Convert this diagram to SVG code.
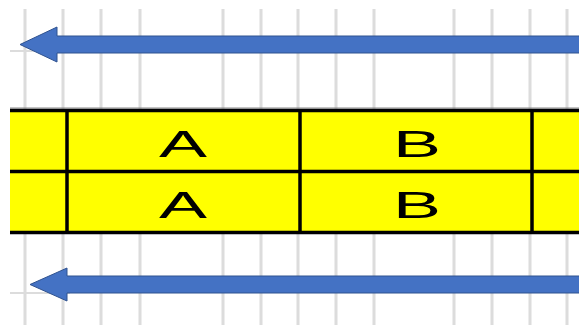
<svg xmlns="http://www.w3.org/2000/svg" width="579" height="325" viewBox="0 0 579 325">
<style>
.grid{stroke:#dcdcdc;stroke-width:3}
.hgrid{stroke:#dcdcdc;stroke-width:2}
.cell{stroke:#000;stroke-width:3.5}
.arrow{fill:#4472C4;stroke:#2F528F;stroke-width:1}
.lbl{font-family:"Liberation Sans",Arial,sans-serif;font-size:36px;fill:#000;text-anchor:middle}
</style>
<rect width="579" height="325" fill="#fff"/>
<g id="grid">
<line class="grid" x1="25" y1="9" x2="25" y2="325"/>
<line class="grid" x1="63" y1="9" x2="63" y2="325"/>
<line class="grid" x1="101" y1="9" x2="101" y2="325"/>
<line class="grid" x1="140" y1="9" x2="140" y2="325"/>
<line class="grid" x1="223" y1="9" x2="223" y2="325"/>
<line class="grid" x1="261" y1="9" x2="261" y2="325"/>
<line class="grid" x1="298" y1="9" x2="298" y2="325"/>
<line class="grid" x1="336" y1="9" x2="336" y2="325"/>
<line class="grid" x1="374" y1="9" x2="374" y2="325"/>
<line class="grid" x1="454" y1="9" x2="454" y2="325"/>
<line class="grid" x1="492" y1="9" x2="492" y2="325"/>
<line class="grid" x1="530" y1="9" x2="530" y2="325"/>
<line class="grid" x1="567" y1="9" x2="567" y2="325"/>
<line class="hgrid" x1="10" y1="51" x2="70" y2="51"/>
<line class="hgrid" x1="10" y1="293" x2="70" y2="293"/>
<line x1="10" y1="108" x2="579" y2="108" stroke="#888" stroke-width="1"/>
</g>
<g id="band">
<rect x="10" y="110.5" width="575" height="122" fill="#FFFF00"/>
<line class="cell" x1="10" y1="110.5" x2="579" y2="110.5"/>
<line class="cell" x1="10" y1="171.5" x2="579" y2="171.5"/>
<line class="cell" x1="10" y1="232.5" x2="579" y2="232.5"/>
<line class="cell" x1="67" y1="110" x2="67" y2="233"/>
<line class="cell" x1="300" y1="110" x2="300" y2="233"/>
<line class="cell" x1="532" y1="110" x2="532" y2="233"/>
</g>
<g id="cellA1"><text class="lbl" transform="translate(183,157) scale(2,1)">A</text></g>
<g id="cellB1"><text class="lbl" transform="translate(417,157) scale(2,1)">B</text></g>
<g id="cellA2"><text class="lbl" transform="translate(183,218) scale(2,1)">A</text></g>
<g id="cellB2"><text class="lbl" transform="translate(417,218) scale(2,1)">B</text></g>
<g id="connectors">
<path class="arrow" d="M582,36 L57,36 L57,27 L20,44.5 L57,62 L57,53 L582,53 Z"/>
<path class="arrow" d="M582,276 L67,276 L67,268 L30,284.5 L67,301 L67,293 L582,293 Z"/>
</g>
</svg>
